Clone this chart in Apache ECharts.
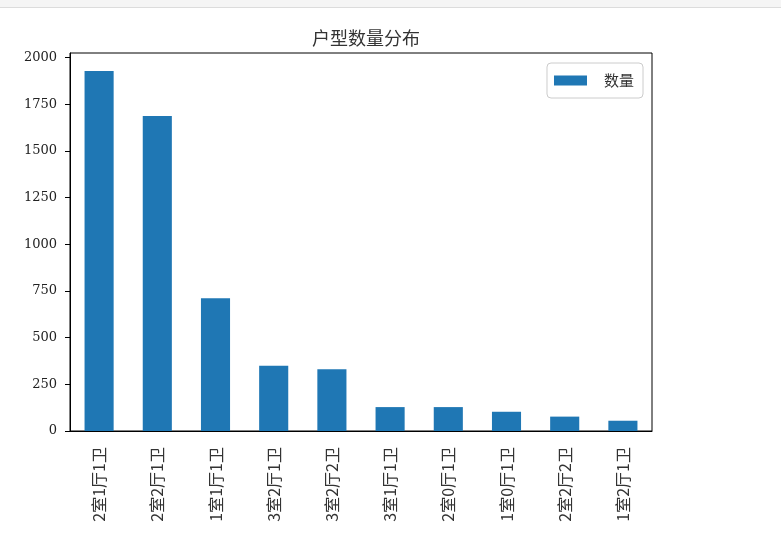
<!DOCTYPE html>
<html>
<head>
<meta charset="utf-8">
<script src="https://cdn.jsdelivr.net/npm/echarts@6/dist/echarts.min.js"></script>
<style>
  html, body { margin: 0; padding: 0; background: #fff; }
  #topbar { position: absolute; left: 0; top: 0; width: 781px; height: 7px; background: #f5f5f5; border-bottom: 1px solid #dcdcdc; }
  #chart { width: 781px; height: 535px; }
</style>
</head>
<body>
<div id="chart"></div>
<div id="topbar"></div>
<script>
// 户型 categories, sorted by count
var roomTypes = ['2室1厅1卫', '2室2厅1卫', '1室1厅1卫', '3室2厅1卫', '3室2厅2卫',
                 '3室1厅1卫', '2室0厅1卫', '1室0厅1卫', '2室2厅2卫', '1室2厅1卫'];
var counts = [1927, 1686, 711, 350, 330, 128, 128, 103, 77, 55];
var yTicks = [0, 250, 500, 750, 1000, 1250, 1500, 1750, 2000];

var serifFont = "'DejaVu Serif', 'Noto Sans CJK SC', serif";
var cjkFont = "'Noto Sans CJK SC', 'DejaVu Serif', sans-serif";

var chart = echarts.init(document.getElementById('chart'));
var option = {
    backgroundColor: '#fff',
    animation: false,
    title: {
        text: '户型数量分布',
        left: 361,
        top: 24,
        textAlign: 'center',
        textStyle: { fontFamily: cjkFont, fontSize: 18, fontWeight: 'normal', color: '#333' }
    },
    legend: {
        data: ['数量'],
        icon: 'rect',
        right: 138,
        top: 63,
        padding: [10, 9, 10, 7],
        itemWidth: 33,
        itemHeight: 10,
        borderColor: '#ccc',
        borderWidth: 1,
        borderRadius: 4,
        textStyle: { fontFamily: cjkFont, fontSize: 15, color: '#333', padding: [0, 0, 0, 12] }
    },
    grid: {
        left: 70,
        right: 129,
        top: 53,
        bottom: 104,
        show: true,
        borderColor: '#000',
        borderWidth: 1,
        containLabel: false
    },
    xAxis: {
        type: 'category',
        data: roomTypes,
        boundaryGap: true,
        axisLine: { lineStyle: { color: '#000', width: 1 } },
        axisTick: { alignWithLabel: true, length: 5, lineStyle: { color: '#000' } },
        axisLabel: {
            rotate: 90,
            margin: 16,
            interval: 0,
            fontFamily: cjkFont,
            fontSize: 16,
            color: '#333'
        }
    },
    yAxis: {
        type: 'value',
        min: 0,
        max: 2024,
        interval: 250,
        splitLine: { show: false },
        axisLine: { show: true, lineStyle: { color: '#000', width: 1 } },
        axisTick: { show: true, length: 5, lineStyle: { color: '#000' }, customValues: yTicks },
        axisLabel: {
            margin: 13,
            fontFamily: serifFont,
            fontSize: 13,
            color: '#222',
            customValues: yTicks,
            formatter: function (v) { return String(v); }
        }
    },
    series: [{
        name: '数量',
        type: 'bar',
        data: counts,
        barWidth: '50%',
        itemStyle: { color: '#1f77b4' }
    }]
};
chart.setOption(option);
</script>
</body>
</html>
